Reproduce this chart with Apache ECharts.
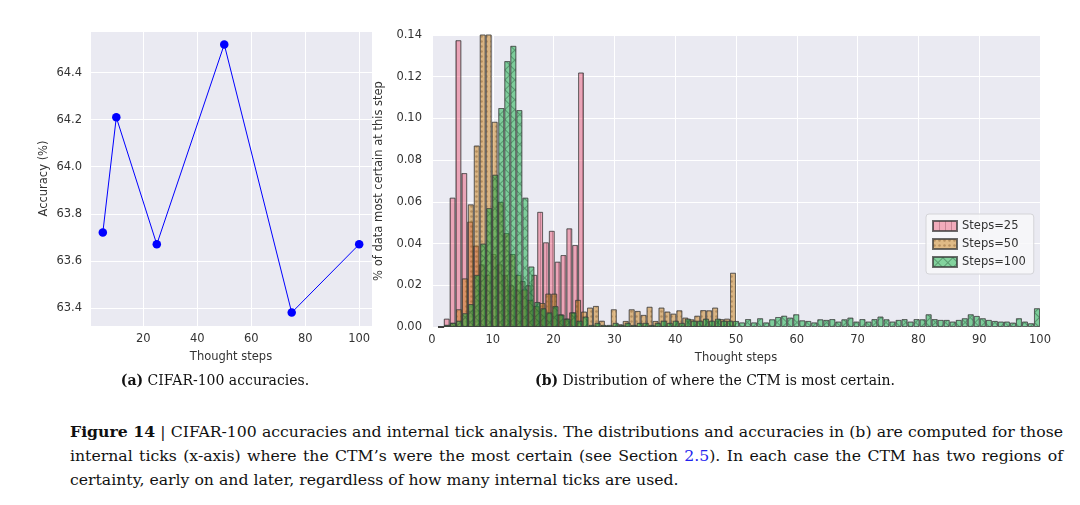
<!DOCTYPE html>
<html>
<head>
<meta charset="utf-8">
<title>CIFAR-100 internal ticks</title>
<style>
  body{margin:0;background:#fff;}
  #chart{position:absolute;left:0;top:0;width:1080px;height:400px;}
  .para{position:absolute;left:70px;top:420px;width:993px;font-family:"DejaVu Serif",serif;font-size:15.7px;line-height:24px;color:#111;}
  .para div{text-align:justify;text-align-last:justify;}
  .para div.last{text-align-last:left;}
  .para .ref{color:#2222ee;}
</style>
<script src="https://cdn.jsdelivr.net/npm/echarts@6.0.0/dist/echarts.min.js"></script>
</head>
<body>
<div id="chart"></div>
<div class="para">
  <div><b>Figure 14</b> | CIFAR-100 accuracies and internal tick analysis. The distributions and accuracies in (b) are computed for those</div>
  <div>internal ticks (x-axis) where the CTM’s were the most certain (see Section <span class="ref">2.5</span>). In each case the CTM has two regions of</div>
  <div class="last">certainty, early on and later, regardless of how many internal ticks are used.</div>
</div>
<script>
// (a) accuracy per number of thought steps
var steps = [5, 10, 25, 50, 75, 100];
var accuracy = [63.72, 64.21, 63.67, 64.52, 63.38, 63.67];

// (b) fraction of data most certain at each step, one value per histogram bin
var certain25 = [0, 0.004, 0.062, 0.1375, 0.0738, 0.0505, 0.039, 0.030, 0.025, 0.035,
  0.030, 0.025, 0.020, 0.018, 0.022, 0.020, 0.025, 0.0552, 0.0406, 0.0461,
  0.0313, 0.0345, 0.0473, 0.0393, 0.122];
var certain50 = [0, 0.001, 0.002, 0.0085, 0.0233, 0.0588, 0.087, 0.148, 0.145, 0.0984,
  0.060, 0.045, 0.035, 0.025, 0.018, 0.013, 0.010, 0.0115, 0.016, 0.016,
  0.006, 0.004, 0.007, 0.013, 0.0074, 0.0093, 0.0101, 0.003, 0.0006, 0.0085,
  0.0013, 0.0029, 0.0085, 0.0077, 0.0058, 0.0097, 0.0029, 0.0093, 0.0074, 0.0064,
  0.008, 0.0045, 0.0037, 0.0054, 0.0081, 0.008, 0.0093, 0.0038, 0.004, 0.026];
var certain100 = [0, 0.001, 0.002, 0.003, 0.0066, 0.011, 0.025, 0.040, 0.057, 0.073,
  0.105, 0.1275, 0.1348, 0.104, 0.062, 0.029, 0.012, 0.009, 0.007, 0.010,
  0.006, 0.004, 0.007, 0.003, 0.005, 0.001, 0.002, 0.001, 0.001, 0.002,
  0.001, 0.002, 0.001, 0.002, 0.002, 0.001, 0.002, 0.003, 0.002, 0.003,
  0.002, 0.004, 0.003, 0.003, 0.004, 0.003, 0.004, 0.003, 0.003, 0.0029,
  0.0022, 0.0038, 0.0022, 0.0042, 0.0022, 0.0037, 0.0048, 0.0054, 0.0045, 0.0061,
  0.0032, 0.0029, 0.0022, 0.0037, 0.0034, 0.0038, 0.0026, 0.0037, 0.0045, 0.0026,
  0.0038, 0.0026, 0.0038, 0.005, 0.0037, 0.0026, 0.0034, 0.0038, 0.0026, 0.0038,
  0.0037, 0.0061, 0.0038, 0.0034, 0.0034, 0.0026, 0.0034, 0.0042, 0.0061, 0.0053,
  0.0042, 0.0034, 0.0029, 0.0026, 0.0026, 0.0021, 0.0042, 0.0026, 0.0018, 0.009];
var seriesNames = ['Steps=25', 'Steps=50', 'Steps=100'];

// matplotlib style bins: n bins spread over [1, n]
function binned(vals){
  var n = vals.length, w = (n - 1) / n;
  return vals.map(function(v, i){ return [1 + w * (i + 0.5), v]; });
}

var gridB = {left: 432, top: 35, width: 608, height: 292};
var unitPx = gridB.width / 100;
var font = 'DejaVu Sans';
var serif = 'DejaVu Serif';
var tickText = {color: '#333', fontSize: 11.5, fontFamily: font};
var nameText = {color: '#333', fontSize: 11.5, fontFamily: font};
var white = {lineStyle: {color: '#fff', width: 1}};

function histSeries(name, vals, color, decal){
  var n = vals.length;
  return {
    name: name, type: 'bar', xAxisIndex: 1, yAxisIndex: 1,
    data: binned(vals),
    barWidth: (n - 1) / n * unitPx,
    barGap: '-100%',
    clip: true,
    itemStyle: {color: color, borderColor: 'rgba(60,60,60,0.5)', borderWidth: 1, decal: decal}
  };
}

function caption(label, text, x){
  return {
    text: '{b|' + label + '} ' + text,
    left: x, top: 374, textAlign: 'center', padding: 0,
    textStyle: {fontFamily: serif, fontSize: 14, fontWeight: 'normal', color: '#111',
      rich: {b: {fontFamily: serif, fontSize: 14, fontWeight: 'bold', color: '#111'}}}
  };
}

var chart = echarts.init(document.getElementById('chart'));
chart.setOption({
  animation: false,
  backgroundColor: '#fff',
  title: [
    caption('(a)', 'CIFAR-100 accuracies.', 215),
    caption('(b)', 'Distribution of where the CTM is most certain.', 715)
  ],
  legend: {
    data: seriesNames, orient: 'vertical', left: 926, top: 214,
    icon: 'rect', itemWidth: 24, itemHeight: 10, itemGap: 6,
    padding: [6, 8, 6, 6], backgroundColor: 'rgba(248,248,250,0.85)',
    borderColor: '#d4d4d8', borderWidth: 1, borderRadius: 3,
    selectedMode: false,
    textStyle: {fontSize: 11.5, color: '#333', fontFamily: font}
  },
  grid: [
    {left: 90, top: 31, width: 282, height: 295, show: true, backgroundColor: '#EAEAF2', borderWidth: 0, outerBoundsMode: 'none'},
    {left: gridB.left, top: gridB.top, width: gridB.width, height: gridB.height, show: true, backgroundColor: '#EAEAF2', borderWidth: 0, outerBoundsMode: 'none'}
  ],
  xAxis: [{
    type: 'value', gridIndex: 0, min: 0.25, max: 104.75, splitNumber: 5,
    name: 'Thought steps', nameLocation: 'middle', nameGap: 25, nameTextStyle: nameText,
    axisLine: {show: false}, axisTick: {show: false},
    axisLabel: Object.assign({margin: 7, showMinLabel: false, showMaxLabel: false}, tickText),
    splitLine: white
  }, {
    type: 'value', gridIndex: 1, min: 0, max: 100, interval: 10,
    name: 'Thought steps', nameLocation: 'middle', nameGap: 25, nameTextStyle: nameText,
    axisLine: {show: false}, axisTick: {show: false},
    axisLabel: Object.assign({margin: 7}, tickText),
    splitLine: white
  }],
  yAxis: [{
    type: 'value', gridIndex: 0, min: 63.323, max: 64.577, splitNumber: 6,
    name: 'Accuracy (%)', nameLocation: 'middle', nameGap: 40, nameTextStyle: nameText,
    axisLine: {show: false}, axisTick: {show: false},
    axisLabel: Object.assign({margin: 8, showMinLabel: false, showMaxLabel: false,
      formatter: function(v){ return v.toFixed(1); }}, tickText),
    splitLine: white
  }, {
    type: 'value', gridIndex: 1, min: 0, max: 0.14, interval: 0.02,
    name: '% of data most certain at this step', nameLocation: 'middle', nameGap: 40, nameTextStyle: nameText,
    axisLine: {show: false}, axisTick: {show: false},
    axisLabel: Object.assign({margin: 10, formatter: function(v){ return v.toFixed(2); }}, tickText),
    splitLine: white
  }],
  series: [
    {
      type: 'line', xAxisIndex: 0, yAxisIndex: 0,
      data: steps.map(function(s, i){ return [s, accuracy[i]]; }),
      symbol: 'circle', symbolSize: 8.5,
      lineStyle: {color: '#0000ff', width: 1},
      itemStyle: {color: '#0000ff'}
    },
    histSeries(seriesNames[0], certain25, 'rgba(236,80,110,0.45)',
      {symbol: 'rect', symbolSize: 1, dashArrayX: [1, 5], dashArrayY: [4, 0], color: 'rgba(110,40,60,0.3)'}),
    histSeries(seriesNames[1], certain50, 'rgba(200,125,20,0.5)',
      {symbol: 'circle', symbolSize: 0.85, dashArrayX: [3, 1.5], dashArrayY: [3, 1.5], color: 'rgba(110,70,30,0.35)'}),
    histSeries(seriesNames[2], certain100, 'rgba(16,176,68,0.5)',
      {symbol: 'rect', symbolSize: 1, dashArrayX: [[7, 0], [1, 6]], dashArrayY: [1, 0, 6, 0], rotation: Math.PI / 4, color: 'rgba(30,70,45,0.4)'})
  ]
});
</script>
</body>
</html>
